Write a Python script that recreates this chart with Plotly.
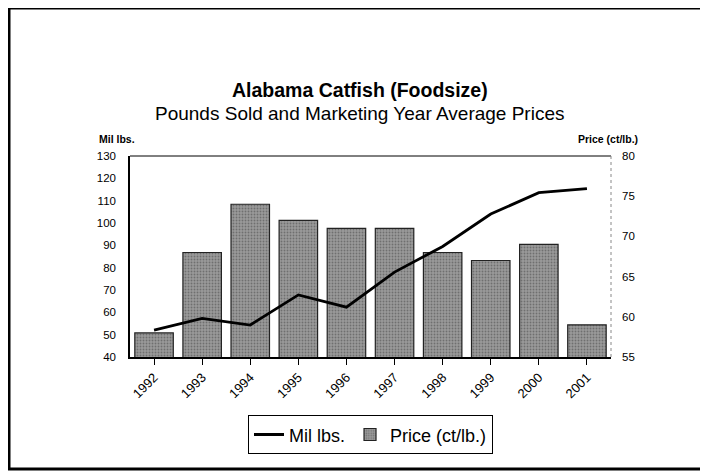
import plotly.graph_objects as go

# Data
years = ["1992", "1993", "1994", "1995", "1996", "1997", "1998", "1999", "2000", "2001"]
mil_lbs = [52, 57.3, 54.3, 67.8, 62.3, 78, 89.5, 104, 113.6, 115.4]
price = [58, 68, 74, 72, 71, 71, 68, 67, 69, 59]

font_family = "Liberation Sans, Arial, sans-serif"

fig = go.Figure()

# Line for pounds sold (left axis, drawn on top of the bars)
fig.add_trace(go.Scatter(
    x=years,
    y=mil_lbs,
    name="Mil lbs.",
    mode="lines",
    line=dict(color="black", width=2.8),
    yaxis="y2"
))

# Bars for price (right axis)
fig.add_trace(go.Bar(
    x=years,
    y=price,
    name="Price (ct/lb.)",
    width=0.8,
    marker=dict(
        color="#9a9a9a",
        line=dict(color="#222222", width=1.2),
        pattern=dict(shape=".", fgcolor="#444444", size=3, solidity=0.3)
    ),
    yaxis="y"
))

# The page body adds an 8px margin, so the figure is 8px smaller
fig.update_layout(
    width=700,
    height=463,
    margin=dict(l=122, r=97, t=148, b=114),
    paper_bgcolor="white",
    plot_bgcolor="white",
    font=dict(family=font_family, color="black", size=11),
    xaxis=dict(
        type="category",
        tickangle=-45,
        ticks="outside",
        ticklen=6,
        tickcolor="black",
        showline=True,
        linecolor="black",
        linewidth=1.5,
        tickfont=dict(size=13),
        showgrid=False
    ),
    yaxis=dict(
        side="right",
        range=[55, 80],
        dtick=5,
        showgrid=False,
        zeroline=False,
        ticks="",
        tickfont=dict(size=11.5),
        ticklabelstandoff=10
    ),
    yaxis2=dict(
        side="left",
        overlaying="y",
        range=[40, 130],
        dtick=10,
        showgrid=False,
        zeroline=False,
        showline=True,
        linecolor="black",
        linewidth=1.5,
        ticks="",
        tickfont=dict(size=11.5),
        ticklabelstandoff=10
    ),
    legend=dict(
        orientation="h",
        x=0.5,
        xanchor="center",
        y=-0.29,
        yanchor="top",
        bordercolor="black",
        borderwidth=1,
        font=dict(size=18),
        itemwidth=30
    ),
    showlegend=True
)

# Title and subtitle
fig.add_annotation(text="<b>Alabama Catfish (Foodsize)</b>", xref="paper", yref="paper",
                   x=0.478, y=(357 - 77) / 201, showarrow=False, font=dict(size=19.5))
fig.add_annotation(text="Pounds Sold and Marketing Year Average Prices", xref="paper", yref="paper",
                   x=0.478, y=(357 - 101) / 201, showarrow=False, font=dict(size=19))

# Axis titles
fig.add_annotation(text="<b>Mil lbs.</b>", xref="paper", yref="paper",
                   x=(97 - 130) / 481, y=(357 - 131) / 201, xanchor="left",
                   showarrow=False, font=dict(size=10.5))
fig.add_annotation(text="<b>Price (ct/lb.)</b>", xref="paper", yref="paper",
                   x=(640 - 130) / 481, y=(357 - 131) / 201, xanchor="right",
                   showarrow=False, font=dict(size=10.5))

# Plot area top border and right dotted border
fig.add_shape(type="line", xref="paper", yref="paper", x0=0, x1=1, y0=1, y1=1,
              line=dict(color="black", width=1))
fig.add_shape(type="line", xref="paper", yref="paper", x0=1, x1=1, y0=0, y1=1,
              line=dict(color="#888888", width=1, dash="dot"))

# Outer frame around the whole chart
fig.add_shape(type="rect", xref="paper", yref="paper",
              x0=(9 - 130) / 481, x1=(705 - 130) / 481,
              y0=(357 - 469) / 201, y1=(357 - 8) / 201,
              line=dict(color="black", width=3))

fig.write_html("out.html")
